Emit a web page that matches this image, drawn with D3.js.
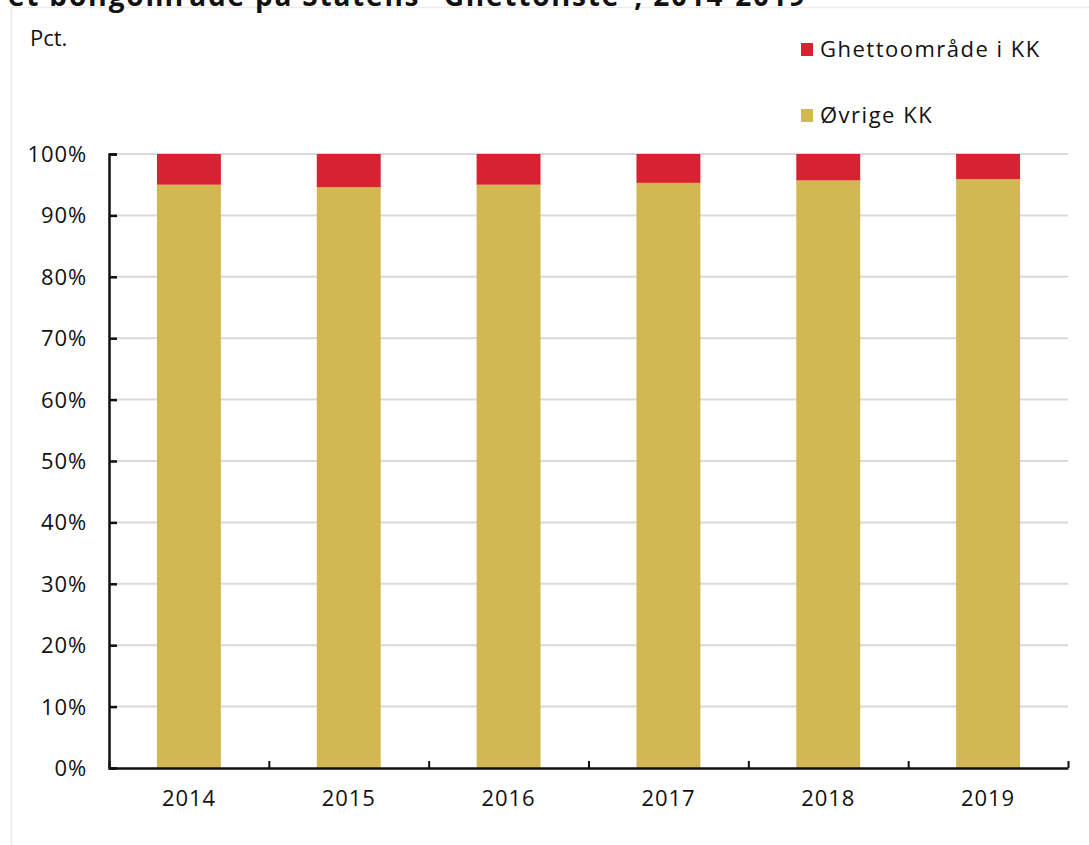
<!DOCTYPE html>
<html>
<head>
<meta charset="utf-8">
<script src="https://cdn.jsdelivr.net/npm/d3@7"></script>
<style>
  html, body { margin: 0; padding: 0; background: #fff; }
  svg { display: block; font-family: "Open Sans", "DejaVu Sans", sans-serif; }
</style>
</head>
<body>
<svg id="chart" width="1089" height="845"></svg>
<script>
const years = ["2014", "2015", "2016", "2017", "2018", "2019"];
const seriesNames = ["Øvrige KK", "Ghettoområde i KK"];
const ovrige = [95.0, 94.6, 95.0, 95.3, 95.7, 95.9];
const ghetto = [5.0, 5.4, 5.0, 4.7, 4.3, 4.1];
const yTicks = [0, 10, 20, 30, 40, 50, 60, 70, 80, 90, 100];
const colors = { "Øvrige KK": "#D1B853", "Ghettoområde i KK": "#D72331" };
const titleText = "et boligområde på Statens ”Ghettoliste”, 2014-2019";

const svg = d3.select("#chart");
const W = 1089, H = 845;
const margin = { left: 109, right: 21, top: 154, bottom: 77 };

// frame
svg.append("rect").attr("x", 11.5).attr("y", 7.5).attr("width", W).attr("height", H)
  .attr("fill", "#fff").attr("stroke", "#ececec").attr("stroke-width", 1.5);

// title (cut off at top edge, as in the reference)
svg.append("text").attr("x", 8).attr("y", 6).attr("font-size", 28).attr("font-weight", 700)
  .attr("letter-spacing", 1.8).attr("fill", "#111").text(titleText);

const x = d3.scaleBand().domain(years).range([margin.left, W - margin.right]).paddingInner(0.6).paddingOuter(0.3);
const y = d3.scaleLinear().domain([0, 100]).range([H - margin.bottom, margin.top]);

// gridlines
svg.append("g").selectAll("line").data(yTicks.filter(d => d > 0)).join("line")
  .attr("x1", margin.left).attr("x2", W - margin.right)
  .attr("y1", d => y(d)).attr("y2", d => y(d))
  .attr("stroke", "#d9d9d9").attr("stroke-width", 2);

// stacked bars
const data = years.map((yr, i) => ({ year: yr, "Øvrige KK": ovrige[i], "Ghettoområde i KK": ghetto[i] }));
const stack = d3.stack().keys(seriesNames)(data);
svg.append("g").selectAll("g").data(stack).join("g")
  .attr("fill", d => colors[d.key])
  .selectAll("rect").data(d => d).join("rect")
  .attr("x", d => x(d.data.year))
  .attr("width", x.bandwidth())
  .attr("y", d => y(Math.min(d[1], 100)))
  .attr("height", d => y(d[0]) - y(Math.min(d[1], 100)));

// y axis
const yAxis = svg.append("g").attr("transform", `translate(${margin.left},0)`)
  .call(d3.axisRight(y).tickValues(yTicks).tickSize(8).tickFormat(""));
yAxis.select(".domain").attr("stroke", "#111").attr("stroke-width", 2.5);
yAxis.selectAll(".tick line").attr("stroke", "#111").attr("stroke-width", 2.5);

svg.append("g").selectAll("text").data(yTicks).join("text")
  .attr("x", 87).attr("y", d => y(d) + 8)
  .attr("text-anchor", "end").attr("font-size", 22).attr("fill", "#111")
  .attr("letter-spacing", 0.9)
  .text(d => d + "%");

// x axis
const xb = d3.scaleLinear().domain([0, years.length]).range([margin.left, W - margin.right]);
const xAxis = svg.append("g").attr("transform", `translate(0,${H - margin.bottom})`)
  .call(d3.axisTop(xb).tickValues(d3.range(0, years.length + 1)).tickSize(7).tickSizeOuter(0).tickFormat(""));
xAxis.select(".domain").attr("stroke", "#111").attr("stroke-width", 2.5);
xAxis.selectAll(".tick line").attr("stroke", "#111").attr("stroke-width", 2);

svg.append("g").selectAll("text").data(years).join("text")
  .attr("x", d => x(d) + x.bandwidth() / 2).attr("y", 806)
  .attr("text-anchor", "middle").attr("font-size", 22).attr("fill", "#111")
  .attr("letter-spacing", 0.9)
  .text(d => d);

// Pct label
svg.append("text").attr("x", 30).attr("y", 46).attr("font-size", 22).attr("fill", "#111").text("Pct.");

// legend
const legendItems = ["Ghettoområde i KK", "Øvrige KK"];
const lg = svg.append("g").selectAll("g").data(legendItems).join("g")
  .attr("transform", (d, i) => `translate(801,${43 + i * 66})`);
lg.append("rect").attr("width", 12).attr("height", 13).attr("fill", d => colors[d]);
lg.append("text").attr("x", 19).attr("y", 14).attr("font-size", 22).attr("fill", "#111")
  .attr("letter-spacing", 1.5).text(d => d);
</script>
</body>
</html>
